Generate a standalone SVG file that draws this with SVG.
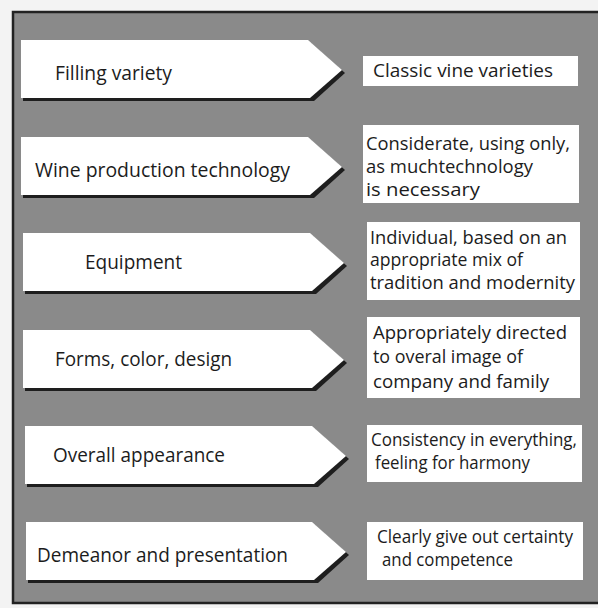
<svg xmlns="http://www.w3.org/2000/svg" width="598" height="608" viewBox="0 0 598 608">
<defs>
<style>
.bg{fill:#8a8a8a;stroke:#222;stroke-width:2.5}
.sh{fill:#1e1e1e}
.arr{fill:#ffffff}
.box{fill:#ffffff}
text{font-family:"Open Sans","Liberation Sans",sans-serif;fill:#1c1c1c}
.l{font-size:19.5px}
.r{font-size:18px}
</style>
</defs>
<rect x="0" y="0" width="598" height="608" fill="#f3f3f3"/>
<rect class="bg" x="13" y="12" width="600" height="591"/>
<g id="connectors"></g>
<g id="n1">
<polygon class="sh" points="23,43 311,43 345,73 314,101 23,101"/>
<polygon class="arr" points="21,40 308,40 342,70 310,98 21,98"/>
<text class="l" x="55" y="80" textLength="117" lengthAdjust="spacingAndGlyphs">Filling variety</text>
</g>
<g id="n2">
<polygon class="sh" points="23,140 311,140 345,170 314,198 23,198"/>
<polygon class="arr" points="21,137 308,137 342,167 310,195 21,195"/>
<text class="l" x="35" y="177" textLength="255" lengthAdjust="spacingAndGlyphs">Wine production technology</text>
</g>
<g id="n3">
<polygon class="sh" points="25,236 313,236 347,266 316,294 25,294"/>
<polygon class="arr" points="23,233 310,233 344,263 312,291 23,291"/>
<text class="l" x="85" y="269" textLength="97" lengthAdjust="spacingAndGlyphs">Equipment</text>
</g>
<g id="n4">
<polygon class="sh" points="25,333 313,333 347,363 316,391 25,391"/>
<polygon class="arr" points="23,330 310,330 344,360 312,388 23,388"/>
<text class="l" x="55" y="366" textLength="177" lengthAdjust="spacingAndGlyphs">Forms, color, design</text>
</g>
<g id="n5">
<polygon class="sh" points="27,429 315,429 349,459 318,487 27,487"/>
<polygon class="arr" points="25,426 312,426 346,456 314,484 25,484"/>
<text class="l" x="53" y="462" textLength="172" lengthAdjust="spacingAndGlyphs">Overall appearance</text>
</g>
<g id="n6">
<polygon class="sh" points="28,525 315,525 349,555 318,583 28,583"/>
<polygon class="arr" points="26,522 312,522 346,552 314,580 26,580"/>
<text class="l" x="37" y="562" textLength="251" lengthAdjust="spacingAndGlyphs">Demeanor and presentation</text>
</g>
<g id="r1">
<rect class="box" x="363" y="56" width="215" height="30"/>
<text class="r" x="373" y="77" textLength="180" lengthAdjust="spacingAndGlyphs">Classic vine varieties</text>
</g>
<g id="r2">
<rect class="box" x="363" y="125" width="216" height="78"/>
<text class="r" x="366" y="150" textLength="204" lengthAdjust="spacingAndGlyphs">Considerate, using only,</text>
<text class="r" x="366" y="173" textLength="167" lengthAdjust="spacingAndGlyphs">as muchtechnology</text>
<text class="r" x="366" y="196" textLength="114" lengthAdjust="spacingAndGlyphs">is necessary</text>
</g>
<g id="r3">
<rect class="box" x="367" y="222" width="213" height="78"/>
<text class="r" x="370" y="244" textLength="197" lengthAdjust="spacingAndGlyphs">Individual, based on an</text>
<text class="r" x="370" y="266" textLength="153" lengthAdjust="spacingAndGlyphs">appropriate mix of</text>
<text class="r" x="370" y="289" textLength="205" lengthAdjust="spacingAndGlyphs">tradition and modernity</text>
</g>
<g id="r4">
<rect class="box" x="367" y="317" width="213" height="81"/>
<text class="r" x="373" y="339" textLength="194" lengthAdjust="spacingAndGlyphs">Appropriately directed</text>
<text class="r" x="373" y="363" textLength="150" lengthAdjust="spacingAndGlyphs">to overal image of</text>
<text class="r" x="373" y="388" textLength="176" lengthAdjust="spacingAndGlyphs">company  and family</text>
</g>
<g id="r5">
<rect class="box" x="367" y="425" width="215" height="57"/>
<text class="r" x="371" y="446" textLength="206" lengthAdjust="spacingAndGlyphs">Consistency in everything,</text>
<text class="r" x="375" y="469" textLength="155" lengthAdjust="spacingAndGlyphs">feeling for harmony</text>
</g>
<g id="r6">
<rect class="box" x="367" y="522" width="216" height="58"/>
<text class="r" x="377" y="543" textLength="196" lengthAdjust="spacingAndGlyphs">Clearly give out certainty</text>
<text class="r" x="382" y="566" textLength="131" lengthAdjust="spacingAndGlyphs">and competence</text>
</g>
</svg>
